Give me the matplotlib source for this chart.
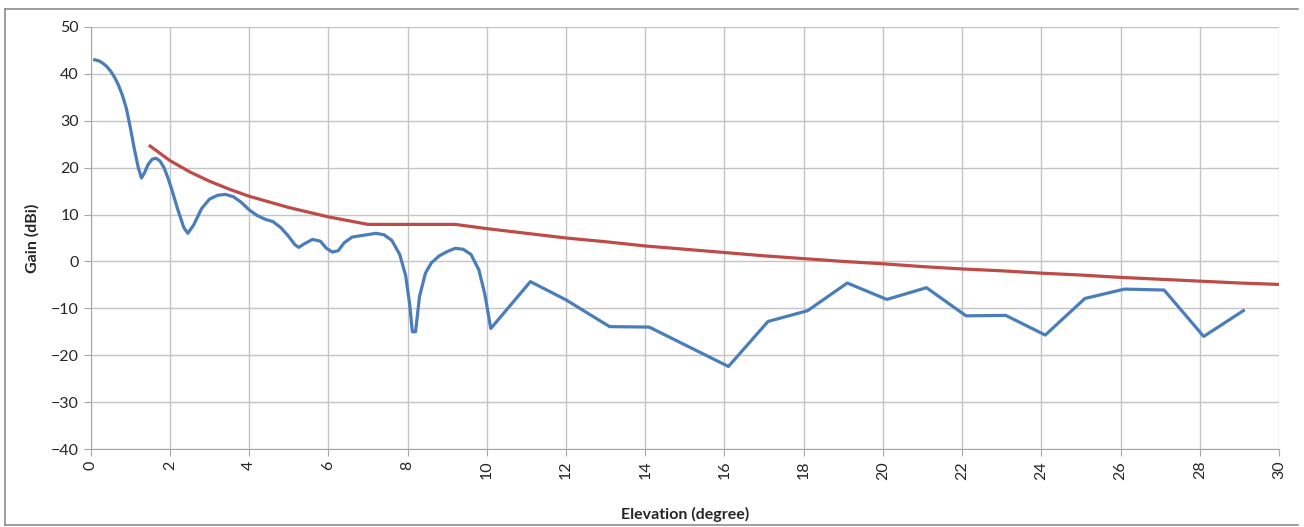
#Program to display antenna gain versus elevation with the reference mask.
import matplotlib
matplotlib.use("Agg")
import matplotlib.pyplot as plt
from matplotlib.lines import Line2D

gain_x = [0.1, 0.2, 0.3, 0.4, 0.5, 0.6, 0.7, 0.8, 0.9, 1.0, 1.1, 1.2, 1.28,
          1.35, 1.45, 1.55, 1.65, 1.75, 1.85, 1.95, 2.05, 2.2, 2.35, 2.45,
          2.6, 2.8, 3.0, 3.2, 3.4, 3.6, 3.8, 4.0, 4.2, 4.4, 4.6, 4.8, 5.0,
          5.15, 5.25, 5.4, 5.6, 5.8, 5.95, 6.1, 6.25, 6.4, 6.6, 6.9, 7.2,
          7.4, 7.6, 7.8, 7.95, 8.05, 8.12, 8.2, 8.3, 8.45, 8.6, 8.8, 9.0,
          9.2, 9.4, 9.6, 9.8, 9.95, 10.1, 11.1, 12.0, 13.1, 14.1, 16.1, 17.1,
          18.1, 19.1, 20.1, 21.1, 22.1, 23.1, 24.1, 25.1, 26.1, 27.1, 28.1,
          29.1]
gain_y = [43.0, 42.8, 42.3, 41.6, 40.6, 39.3, 37.6, 35.4, 32.6, 28.5, 24.0,
          20.0, 17.8, 18.8, 20.7, 21.8, 22.0, 21.4, 20.0, 17.8, 15.2, 11.0,
          7.2, 6.0, 7.8, 11.3, 13.3, 14.1, 14.3, 13.8, 12.6, 11.0, 9.8, 9.0,
          8.5, 7.2, 5.3, 3.6, 3.0, 3.8, 4.7, 4.3, 2.8, 2.0, 2.3, 4.0, 5.2,
          5.6, 6.0, 5.7, 4.5, 1.5, -3.0, -9.0, -15.0, -15.0, -7.5, -2.5, -0.3,
          1.2, 2.1, 2.8, 2.6, 1.5, -1.8, -7.0, -14.3, -4.3, -8.2, -13.9,
          -14.0, -22.4, -12.8, -10.5, -4.6, -8.1, -5.6, -11.6, -11.5, -15.7,
          -7.9, -5.9, -6.1, -16.0, -10.5]

#Reference mask (red).
mask_x = [1.5, 2, 2.5, 3, 3.5, 4, 4.5, 5, 5.5, 6, 6.5, 7, 8, 9, 9.2, 10, 11,
          12, 13, 14, 15, 16, 17, 18, 19, 20, 21, 22, 23, 24, 25, 26, 27, 28,
          29, 30]
mask_y = [24.6, 21.5, 19.1, 17.1, 15.4, 13.9, 12.7, 11.5, 10.5, 9.5, 8.7, 7.9,
          7.9, 7.9, 7.9, 7.0, 6.0, 5.0, 4.2, 3.3, 2.6, 1.9, 1.2, 0.6, 0.0,
          -0.5, -1.1, -1.6, -2.0, -2.5, -2.9, -3.4, -3.8, -4.2, -4.6, -4.9]

x_ticks = list(range(0, 31, 2))
y_ticks = list(range(-40, 51, 10))


def main():
    """Mainline logic for creating the line graph."""
    plt.rcParams['font.family'] = ['Lato', 'DejaVu Sans']
    fig = plt.figure(figsize=(13.04, 5.27), dpi=100)
    ax = fig.add_axes([0.0696, 0.148, 0.9112, 0.8008])

    #Plot both series.
    ax.plot(gain_x, gain_y, color='#4a7ebb', linewidth=2.3,
            solid_joinstyle='round', zorder=3)
    ax.plot(mask_x, mask_y, color='#be4b48', linewidth=2.3,
            solid_joinstyle='round', zorder=3)

    #Axes limits, ticks and grid.
    ax.set_xlim(0, 30)
    ax.set_ylim(-40, 50)
    ax.set_xticks(x_ticks)
    ax.set_yticks(y_ticks)
    ax.set_xticklabels([str(t) for t in x_ticks], rotation=90)
    ax.tick_params(axis='both', labelsize=11.5, color='#a6a6a6', length=5,
                   labelcolor='#262626')
    ax.grid(True, color='#c4c4c4', linewidth=1.0)
    ax.set_axisbelow(True)
    for side in ['top', 'right']:
        ax.spines[side].set_visible(False)
    for side in ['left', 'bottom']:
        ax.spines[side].set_color('#a6a6a6')

    #Axis labels.
    ax.set_xlabel("Elevation (degree)", fontsize=11.5, fontweight='bold',
                  color='#262626', labelpad=20)
    ax.set_ylabel("Gain (dBi)", fontsize=11.5, fontweight='bold',
                  color='#262626', labelpad=8)

    #Outer chart border.
    border = dict(color='#8c8c8c', linewidth=1.2, transform=fig.transFigure)
    x0, x1 = 5 / 1304, 1298 / 1304
    y0, y1 = 1 - 525 / 527, 1 - 9 / 527
    fig.add_artist(Line2D([x0, x1], [y1, y1], **border))
    fig.add_artist(Line2D([x0, x1], [y0, y0], **border))
    fig.add_artist(Line2D([x0, x0], [y0, y1], **border))

    fig.savefig("out.png", dpi=100)


#Call the main function.
if __name__ == '__main__':
    main()
